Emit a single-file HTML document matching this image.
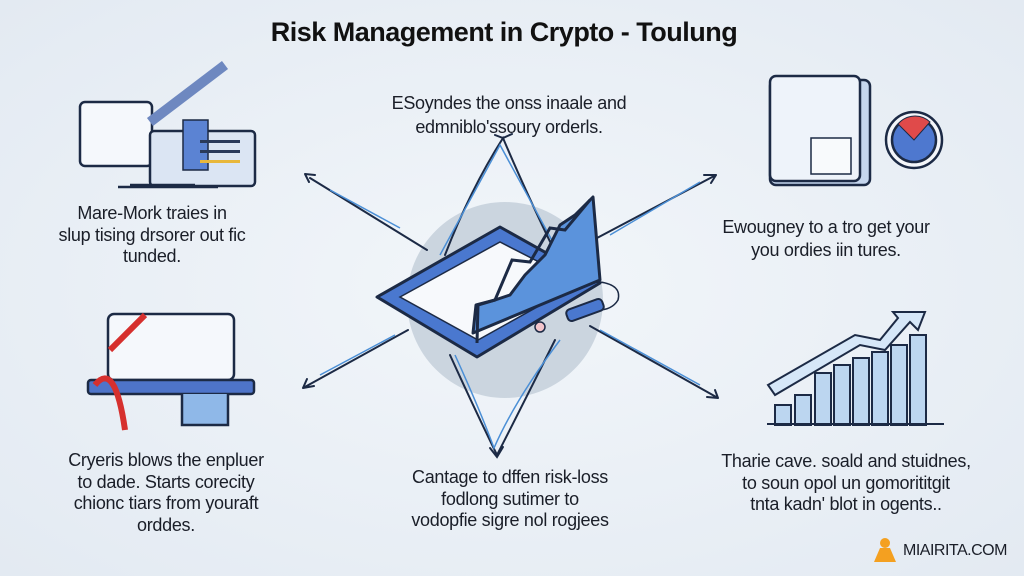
<!DOCTYPE html>
<html><head><meta charset="utf-8"><style>
body{margin:0;width:1024px;height:576px;overflow:hidden;background:#e9eff6;font-family:"Liberation Sans",sans-serif;}
svg{position:absolute;left:0;top:0}
.t{position:absolute;text-align:center;color:#1a1e28;font-size:18px;line-height:21.5px;white-space:nowrap;transform:translateX(-50%);letter-spacing:-0.3px}
</style></head><body>
<svg width="1024" height="576" viewBox="0 0 1024 576">
<defs><radialGradient id="bg" cx="50%" cy="50%" r="70%"><stop offset="0" stop-color="#f2f6fa"/><stop offset="1" stop-color="#e3eaf2"/></radialGradient></defs>
<rect width="1024" height="576" fill="url(#bg)"/>
<circle cx="505" cy="300" r="98" fill="#cbd5df"/>
<g stroke="#1c2a45" stroke-width="2" fill="none" stroke-linecap="round">
<path d="M427,250 L310,178 M305,174 l10,1 M305,174 l4,8"/>
<path d="M597,238 L716,175 M716,175 l-12,0 M716,175 l-5,8"/>
<path d="M408,330 L303,388 M303,388 l11,-2 M303,388 l4,-9"/>
<path d="M590,326 L718,398 M718,398 l-11,-1 M718,398 l-3,-8"/>
<path d="M445,255 Q470,190 503,138 Q525,190 555,252"/>
<path d="M495,135 L503,138 L512,134"/>
<path d="M450,355 Q475,410 497,455 Q520,410 555,340"/>
<path d="M490,448 L497,457 L503,447"/>
</g>
<g stroke="#4b8fd6" stroke-width="1.5" fill="none">
<path d="M440,255 Q470,200 500,145 Q530,200 560,255"/>
<path d="M455,355 Q480,410 494,448 Q515,400 560,340"/>
<path d="M330,190 L400,228 M610,235 L700,182 M320,375 L395,335 M600,330 L700,385"/>
</g>
<!-- tablet -->
<path d="M377,297 L500,227 L600,283 L477,357 Z" fill="#4a78cf" stroke="#1c2a45" stroke-width="3" stroke-linejoin="round"/>
<path d="M400,297 L500,242 L580,283 L478,340 Z" fill="#f7f9fc" stroke="#1c2a45" stroke-width="1.5"/>
<path d="M473,333 L476,305 L495,300 L510,295 L525,275 L545,255 L560,225 L575,215 L593,197 L600,280 Z" fill="#5b93dc" stroke="#1c2a45" stroke-width="3" stroke-linejoin="round"/>
<path d="M477,343 L478,305 L495,300 L512,260 L530,262 L550,228 L565,230 L590,200" fill="none" stroke="#1c2a45" stroke-width="3"/>
<path d="M600,282 Q622,285 618,300 Q612,310 598,310" fill="none" stroke="#1c2a45" stroke-width="1.5"/>
<rect x="566" y="304" width="38" height="12" rx="4" transform="rotate(-20 585 310)" fill="#4a78cf" stroke="#1c2a45" stroke-width="2"/>
<circle cx="540" cy="327" r="5" fill="#f3c5cc" stroke="#1c2a45" stroke-width="1.5"/>
<!-- top-left icon -->
<g stroke="#1c2a45" stroke-width="2.5">
<rect x="80" y="102" width="72" height="64" rx="5" fill="#f5f8fc"/>
<rect x="150" y="131" width="105" height="55" rx="4" fill="#dbe5f3"/>
<rect x="183" y="120" width="25" height="50" fill="#5b83d3" stroke-width="1.5"/>
<path d="M150,122 L225,65" stroke-width="10" stroke="#6e88c0"/>
<path d="M130,185 L195,185" />
<path d="M118,187 L218,187"/>
</g>
<g fill="#2a3a5a"><rect x="200" y="140" width="40" height="3"/><rect x="200" y="150" width="40" height="3"/><rect x="200" y="160" width="40" height="3" fill="#e8b73a"/></g>
<!-- top-right icon -->
<g stroke="#1c2a45" stroke-width="2.5">
<rect x="770" y="80" width="100" height="105" rx="6" fill="#c5d6ee"/>
<rect x="770" y="76" width="90" height="105" rx="6" fill="#eef3fa"/>
<rect x="811" y="138" width="40" height="36" fill="#f8fafc" stroke-width="1.5"/>
<circle cx="914" cy="140" r="28" fill="#f4f6fa"/>
<circle cx="914" cy="140" r="22" fill="#4e78cf"/>
<path d="M914,140 L898,124 A22,22 0 0 1 930,122 Z" fill="#e04a4a" stroke-width="1"/>
</g>
<!-- bottom-left laptop -->
<g stroke="#1c2a45" stroke-width="2.5">
<rect x="108" y="314" width="126" height="66" rx="6" fill="#f5f8fc"/>
<rect x="88" y="380" width="166" height="14" rx="3" fill="#4e74c9"/>
<path d="M182,394 L182,425 L228,425 L228,394" fill="#8fb8e8"/>
</g>
<path d="M110,350 Q130,330 145,315 M95,385 Q115,360 125,430" stroke="#d6302e" stroke-width="6" fill="none"/>
<!-- bottom-right chart -->
<g stroke="#1c2a45" stroke-width="2" fill="#bcd6f0">
<rect x="775" y="405" width="16" height="20"/><rect x="795" y="395" width="16" height="30"/>
<rect x="815" y="373" width="16" height="52"/><rect x="834" y="365" width="16" height="60"/>
<rect x="853" y="358" width="16" height="67"/><rect x="872" y="352" width="16" height="73"/>
<rect x="891" y="345" width="16" height="80"/><rect x="910" y="335" width="16" height="90"/>
<path d="M767,424 L944,424"/>
<path d="M768,385 L855,335 L880,340 L898,318 L893,312 L925,312 L918,330 L910,322 L885,350 L860,345 L775,395 Z" fill="#d6e7f8"/>
</g>
<!-- logo -->
<g fill="#f4a020"><circle cx="885" cy="543" r="5"/><path d="M874,562 L880,548 L890,548 L896,562 Z"/></g>
</svg>
<div style="position:absolute;left:0;width:1024px;top:17px;text-align:center;font-weight:bold;font-size:27px;color:#111;letter-spacing:-0.5px;transform:translateX(-8px)">Risk Management in Crypto - Toulung</div>
<div class="t" style="left:509px;top:91px;line-height:24px">ESoyndes the onss inaale and<br>edmniblo'ssoury orderls.</div>
<div class="t" style="left:152px;top:203px">Mare-Mork traies in<br>slup tising drsorer out fic<br>tunded.</div>
<div class="t" style="left:826px;top:216px;line-height:23px">Ewougney to a tro get your<br>you ordies iin tures.</div>
<div class="t" style="left:166px;top:450px">Cryeris blows the enpluer<br>to dade. Starts corecity<br>chionc tiars from youraft<br>orddes.</div>
<div class="t" style="left:510px;top:467px">Cantage to dffen risk-loss<br>fodlong sutimer to<br>vodopfie sigre nol rogjees</div>
<div class="t" style="left:846px;top:451px">Tharie cave. soald and stuidnes,<br>to soun opol un gomorititgit<br>tnta kadn' blot in ogents..</div>
<div style="position:absolute;left:903px;top:542px;font-size:16px;color:#1a1e28;letter-spacing:-0.5px">MIAIRITA.COM</div>
</body></html>
